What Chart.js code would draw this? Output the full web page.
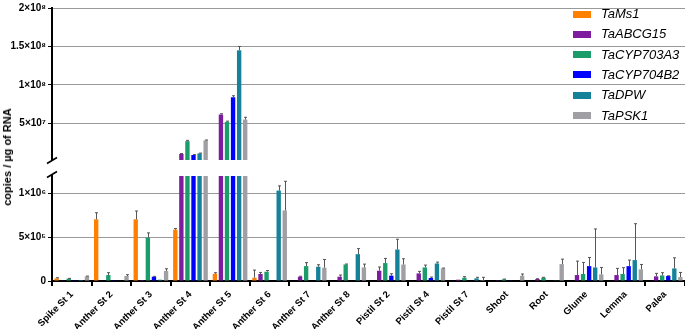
<!DOCTYPE html>
<html>
<head>
<meta charset="utf-8">
<script src="https://cdn.jsdelivr.net/npm/chart.js@4/dist/chart.umd.min.js"></script>
<style>
    body { margin: 0; background: #fff; width: 685px; height: 329px; overflow: hidden; position: relative; }
    canvas { position: absolute; left: 0; }
    #upper { top: 0; }
    #lower { top: 168px; }
    #ytitle {
        position: absolute; left: 7px; top: 157px;
        transform: translate(-50%, -50%) rotate(-90deg);
        font: bold 11px "Liberation Sans", Arial, sans-serif; white-space: nowrap; color: #000;
    }
</style>
</head>
<body>
<canvas id="upper" width="685" height="168"></canvas>
<canvas id="lower" width="685" height="161"></canvas>
<div id="ytitle">copies / µg of RNA</div>
<script>
const categories = ['Spike St 1', 'Anther St 2', 'Anther St 3', 'Anther St 4', 'Anther St 5', 'Anther St 6',
    'Anther St 7', 'Anther St 8', 'Pistil St 2', 'Pistil St 4', 'Pistil St 7', 'Shoot', 'Root', 'Glume', 'Lemma', 'Palea'];

// mean copies / ug RNA and SD (error bar length)
const taMs1 = [3.0e4, 7.05e5, 7.05e5, 5.87e5, 8.3e4, 3.8e4, 0, 0, 0, 0, 0, 0, 0, 0, 0, 0];
const taMs1Sd = [0.7e4, 0.75e5, 0.95e5, 0.13e5, 0.12e5, 0.87e5, 0, 0, 0, 0, 0, 0, 0, 0, 0, 0];
const taABCG15 = [0.7e4, 0.5e4, 1.0e4, 1.04e7, 6.16e7, 8.0e4, 4.9e4, 4.9e4, 1.17e5, 8.7e4, 1.5e4, 0.3e4, 2.3e4, 6.8e4, 6.8e4, 5.3e4];
const taABCG15Sd = [0, 0, 0, 0.05e7, 0.1e7, 1.8e4, 0.5e4, 1.9e4, 4.3e4, 2.3e4, 0, 0, 0.3e4, 1.59e5, 7.6e4, 3.4e4];
const taCYP703A3 = [2.7e4, 6.8e4, 4.96e5, 2.7e7, 5.2e7, 1.06e5, 1.7e5, 1.89e5, 2.05e5, 1.55e5, 3.8e4, 1.9e4, 3.8e4, 8.0e4, 8.0e4, 6.4e4];
const taCYP703A3Sd = [0.3e4, 2.7e4, 0.54e5, 0.1e7, 0.1e7, 1.4e4, 4.0e4, 0.5e4, 5.3e4, 2.7e4, 1.2e4, 0.3e4, 0.4e4, 1.32e5, 7.2e4, 3.1e4];
const taCYP704B2 = [0.3e4, 0.3e4, 4.9e4, 9.0e6, 8.4e7, 0, 0, 0, 6.1e4, 3.4e4, 0, 0.4e4, 0, 1.7e5, 1.7e5, 5.7e4];
const taCYP704B2Sd = [0, 0, 0.4e4, 0.05e7, 0.2e7, 0, 0, 0, 2.2e4, 1.1e4, 0, 0, 0, 0.99e5, 0.69e5, 0.3e4];
const taDPW = [1.1e4, 0.5e4, 1.5e4, 1.1e7, 1.45e8, 1.034e6, 1.63e5, 3.07e5, 3.6e5, 2.0e5, 3.0e4, 0, 0.8e4, 1.55e5, 2.39e5, 1.44e5];
const taDPWSd = [0, 0, 0, 0.05e7, 0.05e8, 0.53e5, 2.3e4, 0.63e5, 1.17e5, 1.6e4, 1.2e4, 0, 0, 4.4e5, 4.16e5, 1.21e5];
const taPSK1 = [5.3e4, 5.7e4, 1.14e5, 2.8e7, 5.5e7, 8.07e5, 1.52e5, 1.55e5, 1.89e5, 1.44e5, 1.1e4, 6.0e4, 1.93e5, 7.6e4, 1.33e5, 4.5e4];
const taPSK1Sd = [0.3e4, 1.5e4, 0.26e5, 0.05e7, 0.3e7, 3.33e5, 0.94e5, 0.38e5, 0.65e5, 0.4e4, 3.1e4, 2.0e4, 0.57e5, 0.79e5, 0.56e5, 0.53e5];

const geneNames = ['TaMs1', 'TaABCG15', 'TaCYP703A3', 'TaCYP704B2', 'TaDPW', 'TaPSK1'];
const geneColors = ['#FF8000', '#7D1C9E', '#1A9C6B', '#0000FF', '#16829A', '#A0A0A4'];

// broken y axis: upper and lower segment
const upperRange = [2.5e6, 2e8];
const upperTicks = [5e7, 1e8, 1.5e8, 2e8];
const upperTickLabels = ['5×10⁷', '1×10⁸', '1.5×10⁸', '2×10⁸'];
const lowerRange = [0, 1.2e6];
const lowerTicks = [0, 5e5, 1e6];
const lowerTickLabels = ['0', '5×10⁵', '1×10⁶'];

const values = [taMs1, taABCG15, taCYP703A3, taCYP704B2, taDPW, taPSK1];
const sds = [taMs1Sd, taABCG15Sd, taCYP703A3Sd, taCYP704B2Sd, taDPWSd, taPSK1Sd];

const FONT = '"Liberation Sans", Arial, sans-serif';

function makeDatasets() {
    return geneNames.map((name, i) => ({
        label: name,
        data: values[i],
        sd: sds[i],
        backgroundColor: geneColors[i],
        borderWidth: 0,
        categoryPercentage: 0.92,
        barPercentage: 0.72,
        clip: 0
    }));
}

const errorBars = {
    id: 'errorBars',
    afterDatasetsDraw(chart) {
        const { ctx, chartArea } = chart;
        const y = chart.scales.y;
        ctx.save();
        ctx.beginPath();
        ctx.rect(chartArea.left, chartArea.top, chartArea.right - chartArea.left, chartArea.bottom - chartArea.top);
        ctx.clip();
        ctx.strokeStyle = '#555';
        ctx.lineWidth = 1;
        chart.data.datasets.forEach((ds, i) => {
            chart.getDatasetMeta(i).data.forEach((bar, j) => {
                const sd = ds.sd[j];
                if (!sd) return;
                const top = y.getPixelForValue(ds.data[j] + sd);
                const x = Math.round(bar.x) + 0.5;
                ctx.beginPath();
                ctx.moveTo(x, bar.y);
                ctx.lineTo(x, top);
                ctx.moveTo(x - 1.5, top);
                ctx.lineTo(x + 1.5, top);
                ctx.stroke();
            });
        });
        ctx.restore();
    }
};

// slash marks at the axis break
function breakMark(where) {
    return {
        id: 'breakMark',
        afterDraw(chart) {
            const { ctx, chartArea } = chart;
            const x = chartArea.left;
            const y = where === 'bottom' ? chartArea.bottom + 0.5 : chartArea.top - 1.5;
            ctx.save();
            ctx.strokeStyle = '#000';
            ctx.lineWidth = 1.6;
            ctx.beginPath();
            ctx.moveTo(x - 5, y + 3);
            ctx.lineTo(x + 5, y - 3);
            ctx.stroke();
            ctx.restore();
        }
    };
}

const legendBoxes = {
    id: 'legendBoxes',
    afterDraw(chart) {
        const { ctx } = chart;
        ctx.save();
        ctx.font = 'italic 13px ' + FONT;
        ctx.textBaseline = 'middle';
        chart.data.datasets.forEach((ds, i) => {
            const cy = 14 + i * 20.3;
            ctx.fillStyle = ds.backgroundColor;
            ctx.fillRect(573, Math.round(cy - 3.5), 18, 7);
            ctx.fillStyle = '#000';
            ctx.fillText(ds.label, 601, cy + 0.5);
        });
        ctx.restore();
    }
};

function yScale(range, ticks, labels) {
    return {
        min: range[0],
        max: range[1],
        afterBuildTicks: s => { s.ticks = ticks.map(v => ({ value: v })); },
        afterFit: s => { s.width = 52; },
        ticks: {
            callback: v => labels[ticks.indexOf(v)],
            color: '#000',
            font: { family: FONT, size: 10, weight: 'bold' },
            padding: 2
        },
        grid: { color: '#999', tickColor: '#000', lineWidth: 1, tickLength: 4 },
        border: { display: true, color: '#000', width: 2 }
    };
}

Chart.defaults.devicePixelRatio = 1;

new Chart(document.getElementById('upper'), {
    type: 'bar',
    data: { labels: categories, datasets: makeDatasets() },
    options: {
        responsive: false,
        animation: false,
        layout: { padding: { top: 3, bottom: 5, left: 0, right: 0 } },
        plugins: { legend: { display: false }, tooltip: { enabled: false } },
        scales: {
            x: { display: false },
            y: yScale(upperRange, upperTicks, upperTickLabels)
        }
    },
    plugins: [errorBars, breakMark('bottom'), legendBoxes]
});

new Chart(document.getElementById('lower'), {
    type: 'bar',
    data: { labels: categories, datasets: makeDatasets() },
    options: {
        responsive: false,
        animation: false,
        layout: { padding: { top: 7, bottom: 0, left: 0, right: 0 } },
        plugins: { legend: { display: false }, tooltip: { enabled: false } },
        scales: {
            x: {
                afterFit: s => { s.height = 48; },
                ticks: {
                    color: '#000',
                    font: { family: FONT, size: 9.5, weight: 'bold' },
                    minRotation: 45,
                    maxRotation: 45,
                    padding: 3,
                    autoSkip: false
                },
                grid: { drawOnChartArea: false, color: '#000', lineWidth: 2, tickLength: 5 },
                border: { display: true, color: '#000', width: 2 }
            },
            y: yScale(lowerRange, lowerTicks, lowerTickLabels)
        }
    },
    plugins: [errorBars, breakMark('top')]
});
</script>
</body>
</html>
